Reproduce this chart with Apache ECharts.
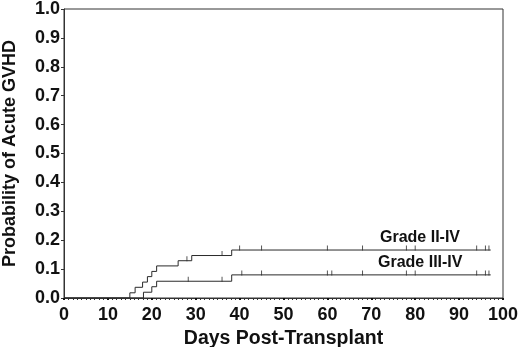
<!DOCTYPE html>
<html>
<head>
<meta charset="utf-8">
<script src="https://cdn.jsdelivr.net/npm/echarts@6/dist/echarts.min.js"></script>
<style>
  html, body { margin: 0; padding: 0; background: #fff; }
  #chart { width: 520px; height: 347px; }
</style>
</head>
<body>
<div id="chart"></div>
<script>
// step curves: [day, cumulative probability]
var gradeIIIV = [
  [0, 0], [15.0, 0.018], [16.2, 0.037], [17.9, 0.055], [19.0, 0.074],
  [20.0, 0.092], [21.1, 0.111], [26.0, 0.129], [29.1, 0.147], [38.2, 0.166], [97.2, 0.166]
];
var gradeIIIIV = [
  [0, 0], [18.1, 0.02], [20.0, 0.039], [21.1, 0.058], [38.2, 0.08], [97.2, 0.08]
];
// censored observations (days)
var censorIIIV = [28, 36, 40, 45, 60, 68, 78, 80, 94, 96, 96.8];
var censorIIIIV = [28.3, 36, 40.5, 45, 60, 61, 68, 78, 80, 94, 96, 96.8];

var xTicks = [0, 10, 20, 30, 40, 50, 60, 70, 80, 90, 100];
var yTicks = [0, 0.1, 0.2, 0.3, 0.4, 0.5, 0.6, 0.7, 0.8, 0.9, 1.0];

var lineColor = '#2a2a2a';
var font = 'Liberation Sans, Arial, Helvetica, sans-serif';

// value of the step curve at day t
function stepAt(curve, t) {
  var v = 0;
  curve.forEach(function (p) {
    if (p[0] <= t) v = p[1];
  });
  return v;
}
function censorPoints(curve, days) {
  return days.map(function (d) {
    return [d, stepAt(curve, d)];
  });
}

var chart = echarts.init(document.getElementById('chart'));
chart.setOption({
  animation: false,
  grid: {
    left: 64,
    right: 17,
    top: 9,
    bottom: 49,
    outerBoundsMode: 'none',
    containLabel: false,
    show: true,
    borderColor: '#333',
    borderWidth: 1,
  },
  xAxis: {
    type: 'value',
    min: xTicks[0],
    max: xTicks[xTicks.length - 1],
    interval: 10,
    name: 'Days Post-Transplant',
    nameLocation: 'middle',
    nameGap: 29,
    nameTextStyle: { color: '#111', fontSize: 19.5, fontWeight: 'bold', fontFamily: font },
    axisLine: { lineStyle: { color: '#333', width: 1 } },
    axisTick: { show: true, length: 2, lineStyle: { color: '#111', width: 2 } },
    minorTick: { show: true, splitNumber: 10, length: 2, lineStyle: { color: '#333', width: 1 } },
    splitLine: { show: false },
    axisLabel: {
      color: '#111',
      fontSize: 18,
      fontWeight: 'bold',
      fontFamily: font,
      margin: 8,
    },
  },
  yAxis: {
    type: 'value',
    min: yTicks[0],
    max: yTicks[yTicks.length - 1],
    interval: 0.1,
    name: 'Probability of Acute GVHD',
    nameLocation: 'middle',
    nameGap: 45,
    nameTextStyle: { color: '#111', fontSize: 18, fontWeight: 'bold', fontFamily: font },
    axisLine: { show: true, lineStyle: { color: '#333', width: 1 } },
    axisTick: { show: true, length: 3, lineStyle: { color: '#333' } },
    splitLine: { show: false },
    axisLabel: {
      color: '#111',
      fontSize: 18,
      fontWeight: 'bold',
      fontFamily: font,
      margin: 4,
      formatter: function (v) {
        return v.toFixed(1);
      },
    },
  },
  series: [
    {
      name: 'Grade II-IV',
      type: 'line',
      step: 'end',
      data: gradeIIIV,
      showSymbol: false,
      lineStyle: { color: lineColor, width: 1 },
    },
    {
      name: 'Grade III-IV',
      type: 'line',
      step: 'end',
      data: gradeIIIIV,
      showSymbol: false,
      lineStyle: { color: lineColor, width: 1 },
    },
    {
      type: 'scatter',
      data: censorPoints(gradeIIIV, censorIIIV),
      symbol: 'rect',
      symbolSize: [1, 5],
      symbolOffset: [0, -2],
      itemStyle: { color: lineColor },
    },
    {
      type: 'scatter',
      data: censorPoints(gradeIIIIV, censorIIIIV),
      symbol: 'rect',
      symbolSize: [1, 5],
      symbolOffset: [0, -2],
      itemStyle: { color: lineColor },
    },
  ],
  graphic: [
    {
      type: 'text',
      left: 380,
      top: 230,
      style: { text: 'Grade II-IV', fill: '#111', font: 'bold 16px ' + font },
    },
    {
      type: 'text',
      left: 378,
      top: 255,
      style: { text: 'Grade III-IV', fill: '#111', font: 'bold 16px ' + font },
    },
  ],
});
</script>
</body>
</html>
